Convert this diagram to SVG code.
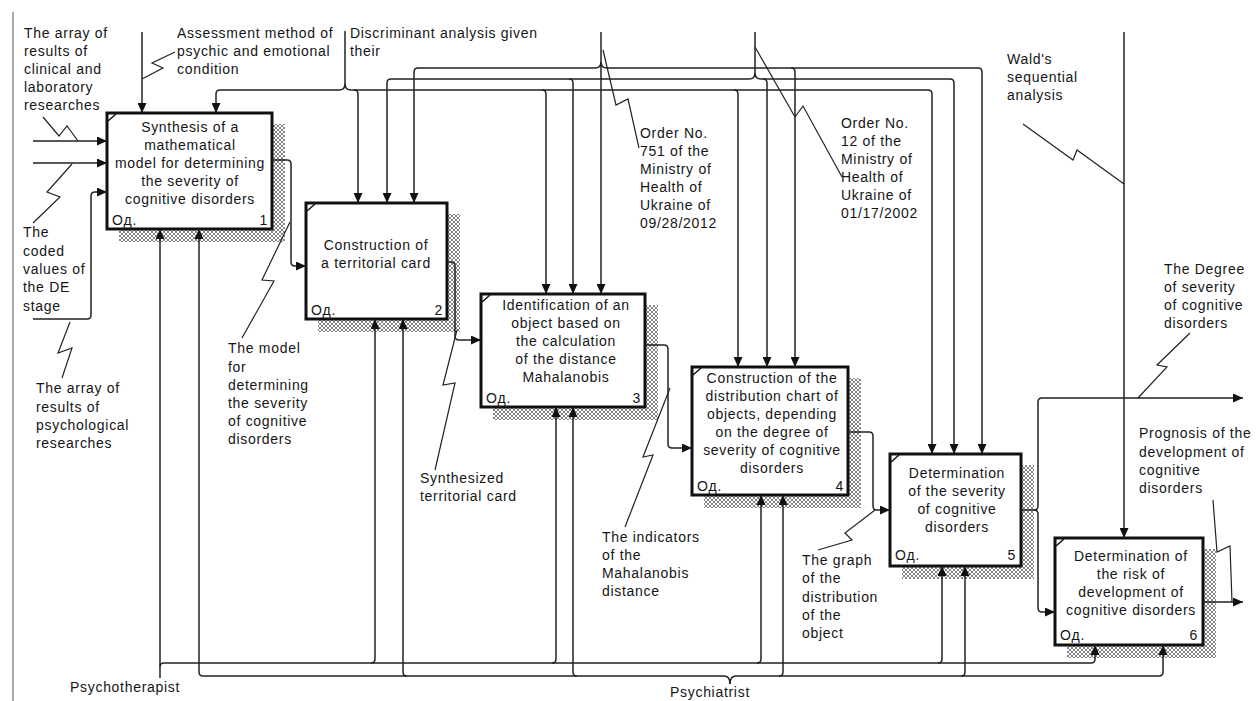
<svg xmlns="http://www.w3.org/2000/svg" width="1260" height="701" viewBox="0 0 1260 701">
<style>
.t{font-family:"Liberation Sans",Arial,sans-serif;font-size:14px;letter-spacing:0.7px;fill:#151515}
.c{text-anchor:middle}
.e{text-anchor:end}
.box{fill:#fff;stroke:#111;stroke-width:3}
.sh{fill:url(#hatch)}
.ln{fill:none;stroke:#222;stroke-width:1.5}
.ar{fill:none;stroke:#222;stroke-width:1.5;marker-end:url(#ah)}
.sq{fill:none;stroke:#222;stroke-width:1.2}
.tick{fill:none;stroke:#111;stroke-width:1.5}
</style>
<defs>
<pattern id="hatch" width="4" height="4" patternUnits="userSpaceOnUse">
<rect width="4" height="4" fill="#fff"/>
<path d="M0,0 L4,4 M4,0 L0,4" stroke="#777" stroke-width="0.9"/>
</pattern>
<marker id="ah" viewBox="0 0 10 9" refX="10" refY="4.5" markerWidth="10" markerHeight="9" markerUnits="userSpaceOnUse" orient="auto">
<path d="M0,0 L10,4.5 L0,9 z" fill="#111"/>
</marker>
</defs>
<rect width="1260" height="701" fill="#fff"/>
<line x1="13" y1="12" x2="13" y2="701" stroke="#555" stroke-width="1"/>

<g id="node1">
<rect class="sh" x="119" y="124" width="166" height="118"/>
<rect class="box" x="107" y="113" width="165" height="116"/>
<path class="tick" d="M108,121 L116,114"/>
<text class="t c" x="190" y="132">Synthesis of a</text>
<text class="t c" x="190" y="150">mathematical</text>
<text class="t c" x="190" y="168">model for determining</text>
<text class="t c" x="190" y="186">the severity of</text>
<text class="t c" x="190" y="204">cognitive disorders</text>
<text class="t" x="112" y="225">Oд.</text>
<text class="t e" x="268" y="225">1</text>
</g>

<g id="node2">
<rect class="sh" x="318" y="214" width="142" height="118"/>
<rect class="box" x="306" y="203" width="141" height="116"/>
<path class="tick" d="M307,211 L315,204"/>
<text class="t c" x="376" y="250">Construction of</text>
<text class="t c" x="376" y="268">a territorial card</text>
<text class="t" x="311" y="315">Oд.</text>
<text class="t e" x="443" y="315">2</text>
</g>

<g id="node3">
<rect class="sh" x="493" y="305" width="165" height="115"/>
<rect class="box" x="481" y="294" width="164" height="113"/>
<path class="tick" d="M482,302 L490,295"/>
<text class="t c" x="566" y="310">Identification of an</text>
<text class="t c" x="566" y="328">object based on</text>
<text class="t c" x="566" y="346">the calculation</text>
<text class="t c" x="566" y="364">of the distance</text>
<text class="t c" x="566" y="382">Mahalanobis</text>
<text class="t" x="486" y="403">Oд.</text>
<text class="t e" x="641" y="403">3</text>
</g>

<g id="node4">
<rect class="sh" x="704" y="378" width="157" height="130"/>
<rect class="box" x="692" y="367" width="156" height="128"/>
<path class="tick" d="M693,375 L701,368"/>
<text class="t c" x="772" y="383">Construction of the</text>
<text class="t c" x="772" y="401">distribution chart of</text>
<text class="t c" x="772" y="419">objects, depending</text>
<text class="t c" x="772" y="437">on the degree of</text>
<text class="t c" x="772" y="455">severity of cognitive</text>
<text class="t c" x="772" y="473">disorders</text>
<text class="t" x="697" y="491">Oд.</text>
<text class="t e" x="844" y="491">4</text>
</g>

<g id="node5">
<rect class="sh" x="902" y="465" width="132" height="114"/>
<rect class="box" x="890" y="454" width="131" height="112"/>
<path class="tick" d="M891,462 L899,455"/>
<text class="t c" x="957" y="478">Determination</text>
<text class="t c" x="957" y="496">of the severity</text>
<text class="t c" x="957" y="514">of cognitive</text>
<text class="t c" x="957" y="532">disorders</text>
<text class="t" x="895" y="560">Oд.</text>
<text class="t e" x="1016" y="560">5</text>
</g>

<g id="node6">
<rect class="sh" x="1067" y="549" width="149" height="109"/>
<rect class="box" x="1055" y="538" width="148" height="107"/>
<path class="tick" d="M1056,546 L1064,539"/>
<text class="t c" x="1131" y="561">Determination of</text>
<text class="t c" x="1131" y="579">the risk of</text>
<text class="t c" x="1131" y="597">development of</text>
<text class="t c" x="1131" y="615">cognitive disorders</text>
<text class="t" x="1060" y="640">Oд.</text>
<text class="t e" x="1198" y="640">6</text>
</g>

<g id="connectors">
<!-- inputs box 1 -->
<path class="ar" d="M33,141 H107"/>
<path class="ar" d="M33,163 H107"/>
<path class="ar" d="M33,319 H87 Q91,319 91,315 V196 Q91,192 95,192 H107"/>
<!-- controls box 1 -->
<path class="ar" d="M142,32 V113"/>
<!-- Discriminant analysis, y=90 -->
<path class="ar" d="M345,31 V84 Q345,90 339,90 H220 Q216,90 216,94 V113"/>
<path class="ar" d="M345,84 Q345,90 351,90 H928 Q932,90 932,94 V454"/>
<path class="ar" d="M354,90 Q358,90 358,94 V203"/>
<path class="ar" d="M542,90 Q546,90 546,94 V294"/>
<path class="ar" d="M734,90 Q738,90 738,94 V367"/>
<!-- Order 12, y=79 -->
<path class="ar" d="M755,32 V73 Q755,79 749,79 H391 Q387,79 387,83 V203"/>
<path class="ar" d="M755,73 Q755,79 761,79 H950 Q954,79 954,83 V454"/>
<path class="ar" d="M569,79 Q573,79 573,83 V294"/>
<path class="ar" d="M763,79 Q767,79 767,83 V367"/>
<!-- Order 751, y=68 -->
<path class="ar" d="M601,32 V294"/>
<path class="ar" d="M601,62 Q601,68 595,68 H418 Q414,68 414,72 V203"/>
<path class="ar" d="M601,62 Q601,68 607,68 H978 Q982,68 982,72 V454"/>
<path class="ar" d="M791,68 Q795,68 795,72 V367"/>
<!-- Wald -->
<path class="ar" d="M1124,32 V538"/>
<!-- outputs -->
<path class="ar" d="M272,160 H287 Q291,160 291,164 V262 Q291,266 295,266 H306"/>
<path class="ar" d="M447,262 H451 Q455,262 455,266 V336 Q455,340 459,340 H481"/>
<path class="ar" d="M645,345 H664 Q668,345 668,349 V444 Q668,448 672,448 H692"/>
<path class="ar" d="M848,432 H869 Q873,432 873,436 V506 Q873,510 877,510 H890"/>
<path class="ar" d="M1021,510 H1034 Q1038,510 1038,506 V402 Q1038,398 1042,398 H1243"/>
<path class="ar" d="M1034,510 Q1038,510 1038,514 V608 Q1038,612 1042,612 H1055"/>
<path class="ar" d="M1203,602 H1243"/>
<!-- Psychotherapist, y=663 -->
<path class="ar" d="M160,678 V229"/>
<path class="ar" d="M160,667 Q160,663 164,663 H1091 Q1095,663 1095,659 V645"/>
<path class="ar" d="M371,663 Q375,663 375,659 V319"/>
<path class="ar" d="M552,663 Q556,663 556,659 V407"/>
<path class="ar" d="M757,663 Q761,663 761,659 V495"/>
<path class="ar" d="M938,663 Q942,663 942,659 V566"/>
<!-- Psychiatrist, y=676 -->
<path class="ar" d="M730,684 Q730,676 724,676 H203 Q199,676 199,672 V229"/>
<path class="ar" d="M730,684 Q730,676 736,676 H1159 Q1163,676 1163,672 V645"/>
<path class="ar" d="M407,676 Q403,676 403,672 V319"/>
<path class="ar" d="M577,676 Q573,676 573,672 V407"/>
<path class="ar" d="M779,676 Q783,676 783,672 V495"/>
<path class="ar" d="M961,676 Q965,676 965,672 V566"/>
<!-- label squiggles -->
<polyline class="sq" points="43,117 59,136 67,126 78,141"/>
<polyline class="sq" points="72,164 47,192 60,197 33,223"/>
<polyline class="sq" points="70,322 58,353 72,348 62,378"/>
<polyline class="sq" points="175,52 152,63 163,68 142,79"/>
<polyline class="sq" points="603,50 616,105 628,99 639,148"/>
<polyline class="sq" points="755,47 795,117 803,106 842,177"/>
<polyline class="sq" points="1023,124 1073,160 1077,150 1124,184"/>
<polyline class="sq" points="290,222 262,280 274,281 242,338"/>
<polyline class="sq" points="457,330 443,385 455,383 435,470"/>
<polyline class="sq" points="670,388 643,457 653,455 625,527"/>
<polyline class="sq" points="875,510 845,533 852,540 818,550"/>
<polyline class="sq" points="1190,333 1157,365 1167,367 1138,398"/>
<polyline class="sq" points="1213,500 1217,552 1230,546 1232,602"/>
</g>

<g id="labels">
<text class="t" x="24" y="38">The array of</text>
<text class="t" x="24" y="56">results of</text>
<text class="t" x="24" y="74">clinical and</text>
<text class="t" x="24" y="92">laboratory</text>
<text class="t" x="24" y="110">researches</text>
<text class="t" x="177" y="38">Assessment method of</text>
<text class="t" x="177" y="56">psychic and emotional</text>
<text class="t" x="177" y="74">condition</text>
<text class="t" x="350" y="38">Discriminant analysis given</text>
<text class="t" x="350" y="56">their</text>
<text class="t" x="640" y="138">Order No.</text>
<text class="t" x="640" y="156">751 of the</text>
<text class="t" x="640" y="174">Ministry of</text>
<text class="t" x="640" y="192">Health of</text>
<text class="t" x="640" y="210">Ukraine of</text>
<text class="t" x="640" y="228">09/28/2012</text>
<text class="t" x="841" y="128">Order No.</text>
<text class="t" x="841" y="146">12 of the</text>
<text class="t" x="841" y="164">Ministry of</text>
<text class="t" x="841" y="182">Health of</text>
<text class="t" x="841" y="200">Ukraine of</text>
<text class="t" x="841" y="218">01/17/2002</text>
<text class="t" x="1007" y="64">Wald's</text>
<text class="t" x="1007" y="82">sequential</text>
<text class="t" x="1007" y="100">analysis</text>
<text class="t" x="23" y="237">The</text>
<text class="t" x="23" y="256">coded</text>
<text class="t" x="23" y="274">values of</text>
<text class="t" x="23" y="292">the DE</text>
<text class="t" x="23" y="311">stage</text>
<text class="t" x="36" y="393">The array of</text>
<text class="t" x="36" y="412">results of</text>
<text class="t" x="36" y="430">psychological</text>
<text class="t" x="36" y="448">researches</text>
<text class="t" x="228" y="353">The model</text>
<text class="t" x="228" y="372">for</text>
<text class="t" x="228" y="390">determining</text>
<text class="t" x="228" y="408">the severity</text>
<text class="t" x="228" y="426">of cognitive</text>
<text class="t" x="228" y="444">disorders</text>
<text class="t" x="420" y="483">Synthesized</text>
<text class="t" x="420" y="501">territorial card</text>
<text class="t" x="602" y="542">The indicators</text>
<text class="t" x="602" y="560">of the</text>
<text class="t" x="602" y="578">Mahalanobis</text>
<text class="t" x="602" y="596">distance</text>
<text class="t" x="802" y="565">The graph</text>
<text class="t" x="802" y="583">of the</text>
<text class="t" x="802" y="602">distribution</text>
<text class="t" x="802" y="620">of the</text>
<text class="t" x="802" y="638">object</text>
<text class="t" x="1164" y="274">The Degree</text>
<text class="t" x="1164" y="292">of severity</text>
<text class="t" x="1164" y="310">of cognitive</text>
<text class="t" x="1164" y="328">disorders</text>
<text class="t" x="1139" y="438">Prognosis of the</text>
<text class="t" x="1139" y="457">development of</text>
<text class="t" x="1139" y="475">cognitive</text>
<text class="t" x="1139" y="493">disorders</text>
<text class="t" x="70" y="692">Psychotherapist</text>
<text class="t c" x="710" y="697">Psychiatrist</text>
</g>
</svg>
